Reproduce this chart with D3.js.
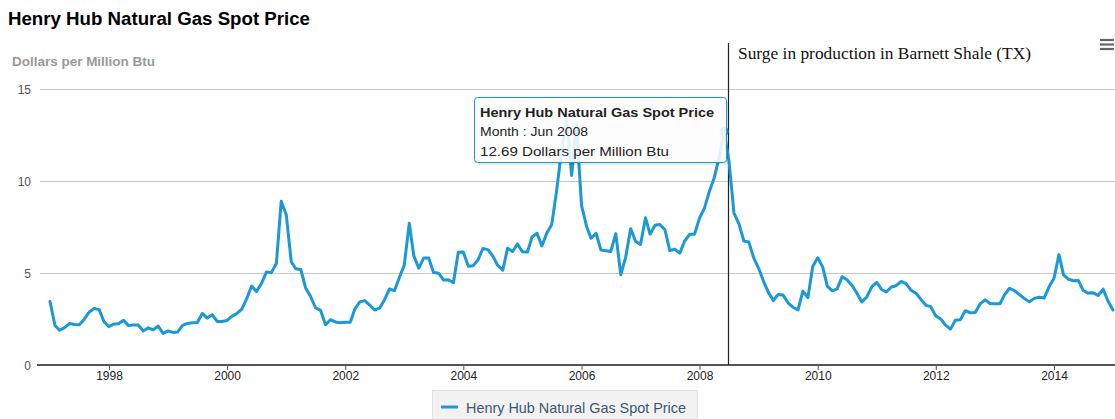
<!DOCTYPE html>
<html><head><meta charset="utf-8">
<script src="https://cdn.jsdelivr.net/npm/d3@7"></script>
<style>
body{margin:0;background:#fff;}
svg{display:block;font-family:"Liberation Sans",Arial,sans-serif;}
</style></head>
<body>
<svg id="chart" width="1115" height="419"></svg>
<script>
const title = "Henry Hub Natural Gas Spot Price";
const yAxisTitle = "Dollars per Million Btu";
const seriesName = "Henry Hub Natural Gas Spot Price";
const firstMonth = "1997-01";
// monthly spot prices, Jan 1997 .. Jan 2015
const prices = [
  3.45,2.15,1.89,2.03,2.25,2.20,2.19,2.49,2.88,3.07,3.01,2.35, // 1997
  2.09,2.23,2.24,2.43,2.14,2.17,2.17,1.85,2.02,1.91,2.12,1.72, // 1998
  1.85,1.77,1.79,2.15,2.26,2.30,2.31,2.80,2.55,2.73,2.37,2.36, // 1999
  2.42,2.66,2.79,3.04,3.59,4.29,3.99,4.43,5.06,5.02,5.52,8.90, // 2000
  8.17,5.61,5.23,5.19,4.19,3.72,3.11,2.97,2.19,2.46,2.34,2.30, // 2001
  2.32,2.32,3.03,3.43,3.50,3.26,2.99,3.09,3.55,4.13,4.04,4.74, // 2002
  5.43,7.71,5.93,5.26,5.81,5.82,5.03,4.99,4.62,4.63,4.47,6.13, // 2003
  6.14,5.37,5.39,5.71,6.33,6.27,5.93,5.41,5.15,6.35,6.17,6.58, // 2004
  6.15,6.14,6.96,7.16,6.47,7.18,7.63,9.53,11.75,13.42,10.30,13.05, // 2005
  8.69,7.54,6.89,7.16,6.25,6.21,6.17,7.14,4.90,5.85,7.41,6.73, // 2006
  6.55,8.00,7.11,7.60,7.64,7.35,6.22,6.29,6.08,6.74,7.10,7.11, // 2007
  7.99,8.54,9.41,10.18,11.27,12.69,11.09,8.26,7.67,6.74,6.68,5.82, // 2008
  5.24,4.52,3.96,3.50,3.83,3.80,3.38,3.14,2.99,4.01,3.66,5.35, // 2009
  5.83,5.32,4.29,4.03,4.14,4.80,4.63,4.32,3.89,3.43,3.71,4.25, // 2010
  4.49,4.09,3.97,4.24,4.31,4.54,4.42,4.06,3.90,3.57,3.24,3.17, // 2011
  2.67,2.50,2.17,1.95,2.43,2.46,2.95,2.84,2.85,3.32,3.54,3.34, // 2012
  3.33,3.33,3.81,4.17,4.04,3.83,3.62,3.43,3.62,3.68,3.64,4.24, // 2013
  4.71,6.00,4.90,4.66,4.58,4.59,4.05,3.91,3.92,3.78,4.12,3.48, // 2014
  2.99 // 2015
];
const yTicks = [0, 5, 10, 15];
const xTickYears = [1998, 2000, 2002, 2004, 2006, 2008, 2010, 2012, 2014];
const highlightMonth = "2008-06";
const annotationMonth = "2008-07";
const annotationText = "Surge in production in Barnett Shale (TX)";

const parse = d3.timeParse("%Y-%m");
const start = parse(firstMonth);
const data = prices.map((v, i) => ({date: d3.timeMonth.offset(start, i), value: v}));

const svg = d3.select("#chart");
const x = d3.scaleTime()
  .domain([new Date(1997,0,1), new Date(2015,0,1)])
  .range([50, 1113]);
const y = d3.scaleLinear().domain([0, 15]).range([365, 89]);

// title
svg.append("text").attr("x", 8).attr("y", 25)
  .attr("font-size", 17.5).attr("font-weight", "bold").attr("fill", "#000")
  .attr("textLength", 302).attr("lengthAdjust", "spacingAndGlyphs")
  .text(title);
svg.append("text").attr("x", 12).attr("y", 66)
  .attr("font-size", 13).attr("font-weight", "bold").attr("fill", "#9a9a9a")
  .attr("textLength", 143).attr("lengthAdjust", "spacingAndGlyphs")
  .text(yAxisTitle);

// gridlines
svg.append("g").selectAll("line").data(yTicks.filter(d => d > 0)).join("line")
  .attr("x1", 40).attr("x2", 1115)
  .attr("y1", d => y(d) + 0.5).attr("y2", d => y(d) + 0.5)
  .attr("stroke", "#c8c8c8").attr("stroke-width", 1);

// y labels
svg.append("g").selectAll("text").data(yTicks).join("text")
  .attr("x", 31).attr("y", d => y(d) + 4.5)
  .attr("text-anchor", "end").attr("font-size", 12).attr("fill", "#555")
  .text(d => d);

// x axis
const xAxis = d3.axisBottom(x)
  .tickValues(xTickYears.map(yr => new Date(yr, 0, 1)))
  .tickFormat(d3.timeFormat("%Y"))
  .tickSize(5).tickSizeOuter(0);
const gx = svg.append("g").attr("transform", "translate(0,365)").call(xAxis);
gx.select(".domain").remove();
gx.selectAll(".tick line").attr("stroke", "#555").attr("stroke-width", 1);
gx.selectAll(".tick text").attr("font-size", 12).attr("fill", "#222")
  .attr("font-family", "'Liberation Sans',Arial,sans-serif").attr("dy", "0.9em").attr("y", 4);
svg.append("line").attr("x1", 37).attr("x2", 1115).attr("y1", 365).attr("y2", 365)
  .attr("stroke", "#555").attr("stroke-width", 2);

// annotation line
const ax = Math.round(x(parse(annotationMonth))) - 0.5;
svg.append("line").attr("x1", ax).attr("x2", ax).attr("y1", 43).attr("y2", 365)
  .attr("stroke", "#222").attr("stroke-width", 1.2);
svg.append("text").attr("x", 738).attr("y", 59)
  .attr("font-family", "'Liberation Serif','Times New Roman',serif")
  .attr("font-size", 17).attr("fill", "#111")
  .attr("textLength", 293).attr("lengthAdjust", "spacingAndGlyphs")
  .text(annotationText);

// series line
const line = d3.line().x(d => x(d.date)).y(d => y(d.value));
svg.append("path").datum(data).attr("d", line)
  .attr("fill", "none").attr("stroke", "#1b98d6").attr("stroke-width", 3)
  .attr("stroke-linejoin", "round").attr("stroke-linecap", "round");

// highlighted point
const hp = data.find(d => d3.timeFormat("%Y-%m")(d.date) === highlightMonth);
svg.append("circle").attr("cx", x(hp.date)).attr("cy", y(hp.value)).attr("r", 4.5)
  .attr("fill", "#1b98d6");

// tooltip
const tip = svg.append("g");
tip.append("rect").attr("x", 476).attr("y", 100).attr("width", 252).attr("height", 65)
  .attr("rx", 3).attr("fill", "rgba(0,0,0,0.08)");
tip.append("rect").attr("x", 474.5).attr("y", 97.5).attr("width", 252).attr("height", 65)
  .attr("rx", 3).attr("fill", "rgba(255,255,255,0.88)")
  .attr("stroke", "#1b98d6").attr("stroke-width", 1);
tip.append("text").attr("x", 480).attr("y", 117).attr("font-size", 13.5)
  .attr("font-weight", "bold").attr("fill", "#222")
  .attr("textLength", 234).attr("lengthAdjust", "spacingAndGlyphs").text(seriesName);
tip.append("text").attr("x", 480).attr("y", 136).attr("font-size", 13.5)
  .attr("fill", "#222").attr("textLength", 108).attr("lengthAdjust", "spacingAndGlyphs")
  .text("Month : " + d3.timeFormat("%b %Y")(hp.date));
tip.append("text").attr("x", 480).attr("y", 156).attr("font-size", 13.5)
  .attr("fill", "#222").attr("textLength", 189).attr("lengthAdjust", "spacingAndGlyphs")
  .text(d3.format(".2f")(hp.value) + " Dollars per Million Btu");

// legend
const lg = svg.append("g");
lg.append("rect").attr("x", 432.5).attr("y", 390.5).attr("width", 265).attr("height", 40)
  .attr("fill", "#f2f2f2").attr("stroke", "#e2e2e2");
lg.append("line").attr("x1", 441).attr("x2", 458).attr("y1", 407).attr("y2", 407)
  .attr("stroke", "#1b98d6").attr("stroke-width", 3);
lg.append("text").attr("x", 466).attr("y", 413).attr("font-size", 15)
  .attr("fill", "#3e576f").attr("textLength", 220).attr("lengthAdjust", "spacingAndGlyphs")
  .text(seriesName);

// menu icon
svg.append("g").selectAll("line").data([0, 1, 2]).join("line")
  .attr("x1", 1100).attr("x2", 1114)
  .attr("y1", d => 40 + d * 4.5).attr("y2", d => 40 + d * 4.5)
  .attr("stroke", "#666").attr("stroke-width", 2.2);
</script>
</body></html>
